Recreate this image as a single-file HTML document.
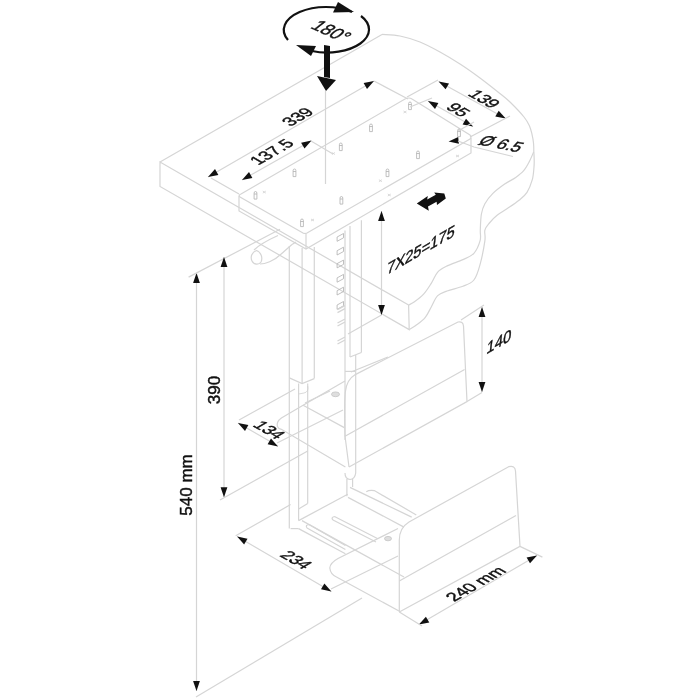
<!DOCTYPE html>
<html><head><meta charset="utf-8"><style>
html,body{margin:0;padding:0;background:#fff;width:700px;height:700px;overflow:hidden}
svg{display:block;will-change:transform}
.l{fill:none;stroke:#d5d5d5;stroke-width:1.2}
.lp{fill:none;stroke:#b0b0b0;stroke-width:0.8}
.ws{fill:#dedede;stroke:#c4c4c4;stroke-width:0.8}
.lx{fill:none;stroke:#d0d0d0;stroke-width:0.8}
.k{fill:none;stroke:#111;stroke-width:2.2}
.a{fill:#111}
.t{font-family:"Liberation Sans",sans-serif;fill:#111;stroke:#111;stroke-width:0.45;text-anchor:middle;dominant-baseline:central}
</style></head><body>
<svg width="700" height="700" viewBox="0 0 700 700">
<path class="l" d="M160,162 L382,34.4"/>
<path class="l" d="M382.0,34.4 C385.0,34.7 393.7,34.7 400.0,36.0 C406.3,37.3 413.3,39.3 420.0,42.0 C426.7,44.7 433.3,48.3 440.0,52.0 C446.7,55.7 453.3,59.7 460.0,64.0 C466.7,68.3 473.7,73.3 480.0,78.0 C486.3,82.7 493.0,88.0 498.0,92.0 C503.0,96.0 505.7,97.8 510.0,102.0 C514.3,106.2 520.8,113.0 524.0,117.0 C527.2,121.0 528.1,122.8 529.4,125.7 C530.7,128.6 531.3,131.4 532.0,134.3 C532.7,137.2 533.2,140.1 533.5,143.0 C533.8,145.9 533.8,150.1 533.8,151.5"/>
<path class="l" d="M533.8,151.5 C533.1,153.2 531.1,158.2 529.4,161.4 C527.7,164.6 526.0,167.9 523.7,170.6 C521.4,173.3 518.9,175.1 515.7,177.4 C512.5,179.7 508.1,181.6 504.3,184.3 C500.5,187.0 496.1,190.2 492.9,193.4 C489.7,196.6 486.8,200.3 484.9,203.7 C483.0,207.1 482.2,209.6 481.4,214.0 C480.6,218.4 480.5,225.6 480.3,230.0 C480.1,234.4 481.2,236.8 480.1,240.7 C479.0,244.6 476.8,250.2 473.9,253.3 C471.0,256.5 467.4,257.5 462.9,259.6 C458.4,261.7 451.3,263.8 447.1,265.9 C442.9,268.0 440.3,269.2 437.7,272.1 C435.1,275.0 433.8,279.4 431.4,283.1 C429.0,286.8 426.5,291.0 423.6,294.1 C420.7,297.2 416.6,300.2 414.1,302.0 C411.6,303.8 409.5,304.6 408.6,305.1"/>
<path class="l" d="M408.6,305.1 L160.0,162.0 L160.0,186.5 L409.2,329.6 L408.6,305.1"/>
<path class="l" d="M533.8,151.5 C533.9,152.9 534.2,157.4 534.2,160.0 C534.2,162.6 534.3,163.7 534.0,167.0 C533.7,170.3 533.5,175.5 532.3,179.7 C531.1,183.9 529.2,188.9 527.0,192.3 C524.8,195.7 522.2,197.6 519.0,200.3 C515.8,203.0 511.3,205.9 507.7,208.3 C504.1,210.8 500.4,212.6 497.4,215.0 C494.3,217.4 491.5,220.5 489.4,223.0 C487.3,225.5 485.6,227.1 484.9,230.0 C484.1,232.9 485.7,235.0 484.9,240.7 C484.1,246.4 481.9,257.8 480.1,264.3 C478.3,270.9 476.8,276.3 473.9,280.0 C471.0,283.7 467.4,284.5 462.9,286.3 C458.4,288.1 451.3,289.4 447.1,291.0 C442.9,292.6 440.3,293.1 437.7,295.7 C435.1,298.3 433.5,303.0 431.4,306.7 C429.3,310.4 427.7,314.5 425.1,317.7 C422.5,320.9 418.4,323.6 415.7,325.6 C413.0,327.6 410.3,328.9 409.2,329.6"/>
<path class="l" d="M241,194 L405,99 Q409,97 412,99 L470,135 Q472,137 470,139 L307,233 Q305,234 303,233 L240,197 Q238,195 241,194 Z"/>
<path class="l" d="M239,196 L239,211 L306,249 L471,153 L471,138"/>
<path class="l" d="M306.0,234.0 L306.0,249.0"/>
<path class="lp" d="M408.6,109.6 L408.6,103.6 Q408.6,102 410,102 Q411.4,102 411.4,103.6 L411.4,109.6 Z M408.6,104.5 L411.4,104.5"/>
<path class="lp" d="M369.6,131.6 L369.6,125.6 Q369.6,124 371,124 Q372.4,124 372.4,125.6 L372.4,131.6 Z M369.6,126.5 L372.4,126.5"/>
<path class="lp" d="M416.6,158.6 L416.6,152.6 Q416.6,151 418,151 Q419.4,151 419.4,152.6 L419.4,158.6 Z M416.6,153.5 L419.4,153.5"/>
<path class="lp" d="M457.6,136.6 L457.6,130.6 Q457.6,129 459,129 Q460.4,129 460.4,130.6 L460.4,136.6 Z M457.6,131.5 L460.4,131.5"/>
<path class="lp" d="M339.40000000000003,150.6 L339.40000000000003,144.6 Q339.40000000000003,143 340.8,143 Q342.2,143 342.2,144.6 L342.2,150.6 Z M339.40000000000003,145.5 L342.2,145.5"/>
<path class="lp" d="M293.1,176.6 L293.1,170.6 Q293.1,169 294.5,169 Q295.9,169 295.9,170.6 L295.9,176.6 Z M293.1,171.5 L295.9,171.5"/>
<path class="lp" d="M254.1,199.1 L254.1,193.1 Q254.1,191.5 255.5,191.5 Q256.9,191.5 256.9,193.1 L256.9,199.1 Z M254.1,194.0 L256.9,194.0"/>
<path class="lp" d="M300.6,226.6 L300.6,220.6 Q300.6,219 302,219 Q303.4,219 303.4,220.6 L303.4,226.6 Z M300.6,221.5 L303.4,221.5"/>
<path class="lp" d="M340.0,204.1 L340.0,198.1 Q340.0,196.5 341.4,196.5 Q342.79999999999995,196.5 342.79999999999995,198.1 L342.79999999999995,204.1 Z M340.0,199.0 L342.79999999999995,199.0"/>
<path class="lp" d="M386.1,176.6 L386.1,170.6 Q386.1,169 387.5,169 Q388.9,169 388.9,170.6 L388.9,176.6 Z M386.1,171.5 L388.9,171.5"/>
<path class="lx" d="M331.9,152.5 L334.9,154.5 M331.9,154.5 L334.9,152.5"/>
<path class="lx" d="M262.8,191.1 L265.8,193.1 M262.8,193.1 L265.8,191.1"/>
<path class="lx" d="M311.0,219 L314.0,221 M311.0,221 L314.0,219"/>
<path class="lx" d="M378.9,179.7 L381.9,181.7 M378.9,181.7 L381.9,179.7"/>
<path class="lx" d="M387.8,194 L390.8,196 M387.8,196 L390.8,194"/>
<path class="lx" d="M403.5,111 L406.5,113 M403.5,113 L406.5,111"/>
<path class="lx" d="M456.0,155 L459.0,157 M456.0,157 L459.0,155"/>
<path class="l" d="M289.3,246.0 L289.3,528.6"/>
<path class="l" d="M302.1,248.0 L302.1,383.6"/>
<path class="l" d="M314.3,247.0 L314.3,378.6"/>
<path class="l" d="M289.3,377.9 L302.1,383.6 L314.3,378.6"/>
<path class="l" d="M298.6,383.6 L298.6,520.6"/>
<path class="l" d="M307.7,383.6 L307.7,503.5"/>
<path class="l" d="M307.7,503.5 L298.6,509.0"/>
<path class="lx" d="M307.7,386 Q309,392 304,393 L298.6,394"/>
<path class="l" d="M345.0,230.6 L345.0,440.0"/>
<path class="l" d="M350.0,226.0 L350.0,357.0"/>
<path class="l" d="M361.4,220.3 L361.4,352.5"/>
<path class="l" d="M350.0,357.0 L361.4,352.5"/>
<path class="l" d="M355.7,355.0 L355.7,371.4"/>
<path class="l" d="M345.0,371.4 L355.7,371.4"/>
<path class="lp" d="M337.1,241.3 L337.1,237 L343.5,233.5 L343.5,237.8 Z"/>
<path class="lp" d="M337.1,255.0 L337.1,250.7 L343.5,247.2 L343.5,251.5 Z"/>
<path class="lp" d="M337.1,267.90000000000003 L337.1,263.6 L343.5,260.1 L343.5,264.40000000000003 Z"/>
<path class="lp" d="M337.1,282.2 L337.1,277.9 L343.5,274.4 L343.5,278.7 Z"/>
<path class="lp" d="M337.1,295.0 L337.1,290.7 L343.5,287.2 L343.5,291.5 Z"/>
<path class="lp" d="M337.1,309.3 L337.1,305 L343.5,301.5 L343.5,305.8 Z"/>
<path class="l" d="M337.5,309.6 L345.0,305.6"/>
<path class="l" d="M337.5,312.6 L345.0,308.6"/>
<path class="l" d="M337.5,323.0 L345.0,319.0"/>
<path class="l" d="M337.5,326.0 L345.0,322.0"/>
<path class="l" d="M337.5,341.0 L345.0,337.0"/>
<path class="l" d="M337.5,344.0 L345.0,340.0"/>
<path class="l" d="M256.5,250.5 C252,252 250,257 252,261 C254,265 259,265 261,262 C263,258 261,252 256.5,250.5 Z"/>
<path class="l" d="M254,250 C258,246 268,240 278,235.5"/>
<path class="l" d="M260,264 C265,264 274,261 280,255 C285,251 290,246 292,244.5"/>
<path class="l" d="M292.0,244.5 L296.0,242.0"/>
<path class="l" d="M349,467 L345,436 C344.5,420 344.5,400 345.3,392 C346.3,383 349.5,378 355.3,374.6 L458,322 Q463,321 463.5,326 L467,401.6 L349,467"/>
<path class="l" d="M345.0,436.3 L464.6,369.4"/>
<path class="l" d="M351.0,372.0 L388.0,357.0"/>
<path class="l" d="M303.1,405.3 L281.4,417.9 Q276.2,421.5 277.4,426.4 Q278.5,428.8 281.4,429.3 L345.4,467"/>
<path class="l" d="M303.1,405.3 L344.3,427.6"/>
<path class="l" d="M303.1,405.3 L345.0,381.0"/>
<path class="l" d="M239.0,420.0 L295.0,389.0"/>
<path class="l" d="M305.0,403.0 L330.0,391.0"/>
<path class="l" d="M277.0,443.0 L343.0,410.0"/>
<path class="ws" d="M331.5,394.3 A4,2.4 0 1 0 339.5,394.3 A4,2.4 0 1 0 331.5,394.3"/>
<path class="l" d="M345,473 Q345,479 350,479.5 Q355,479 355.7,473 L355.7,371.4"/>
<path class="l" d="M346.9,479.0 L346.9,496.3"/>
<path class="l" d="M352.6,479.0 L352.6,487.1"/>
<path class="l" d="M298.6,520.6 L347.7,494.3"/>
<path class="l" d="M298.6,528.6 L345.4,553.7"/>
<path class="l" d="M290.6,528.6 L298.6,528.6"/>
<path class="l" d="M302.0,520.6 L404.0,577.0"/>
<path class="l" d="M309,524.5 L345.4,545.5 M307,528 L345.4,549.5 M309,524.5 Q305,525 307,528"/>
<path class="l" d="M334.5,516.5 L377.4,538.5 M333,520 L376,542 M334.5,516.5 Q330.5,517.5 333,520"/>
<path class="l" d="M350.0,487.4 L411.7,517.1"/>
<path class="l" d="M348.0,497.4 L404.0,527.1"/>
<path class="l" d="M366.3,491.7 Q369,489.8 374.3,490.6 L416.3,514.9"/>
<path class="l" d="M398,528.5 L338,558.5 Q330,563 329.8,568 Q330.5,574.5 336.5,577 L399,611"/>
<path class="ws" d="M384.5,538.6 A3.5,2.2 0 1 0 391.5,538.6 A3.5,2.2 0 1 0 384.5,538.6"/>
<path class="l" d="M399.3,612 L399.3,540 Q399.3,528 409,522 L508.6,466.7 Q515,465 515.5,471 L520,546.4 L399.3,612"/>
<path class="l" d="M399.3,581.0 L516.0,515.6"/>
<path class="l" d="M196.5,273.0 L196.5,691.0"/>
<polygon class="a" points="196.5,273.0 199.9,283.0 193.1,283.0"/>
<polygon class="a" points="196.5,691.0 193.1,681.0 199.9,681.0"/>
<path class="l" d="M188.6,277.1 L280.0,229.3"/>
<path class="l" d="M196.0,697.0 L362.0,598.0"/>
<text class="t" transform="translate(186.5,485) rotate(-90)" font-size="17">540 mm</text>
<path class="l" d="M224.0,257.0 L224.0,497.0"/>
<polygon class="a" points="224.0,257.0 227.4,267.0 220.6,267.0"/>
<polygon class="a" points="224.0,497.3 220.6,487.3 227.4,487.3"/>
<path class="l" d="M220.0,500.0 L307.7,451.0"/>
<text class="t" transform="translate(214,390) rotate(-90)" font-size="17">390</text>
<path class="l" d="M208.0,177.0 L374.0,81.0"/>
<polygon class="a" points="208.0,177.0 215.0,169.1 218.4,174.9"/>
<polygon class="a" points="374.0,81.0 367.0,88.9 363.6,83.1"/>
<path class="l" d="M211.0,178.0 L239.0,194.0"/>
<path class="l" d="M374.0,81.0 L408.0,99.0"/>
<text class="t" transform="matrix(0.866 -0.5 0.866 0.5 298 117)" font-size="17">339</text>
<path class="l" d="M242.0,180.0 L311.0,141.0"/>
<polygon class="a" points="242.0,180.0 249.0,172.1 252.4,177.9"/>
<polygon class="a" points="311.5,140.6 304.5,148.5 301.1,142.7"/>
<path class="l" d="M311.0,141.0 L333.0,154.0"/>
<text class="t" transform="matrix(0.866 -0.5 0.866 0.5 272 152)" font-size="17">137.5</text>
<path class="l" d="M438.6,81.4 L505.7,118.6"/>
<polygon class="a" points="438.6,81.4 449.0,83.5 445.6,89.3"/>
<polygon class="a" points="505.7,118.6 495.3,116.5 498.7,110.7"/>
<path class="l" d="M407.0,97.0 L438.0,80.0"/>
<path class="l" d="M470.0,137.0 L510.0,116.0"/>
<text class="t" transform="matrix(0.866 0.5 -0.866 0.5 484 99)" font-size="17">139</text>
<path class="l" d="M428.0,101.0 L473.0,126.4"/>
<polygon class="a" points="428.0,101.0 438.4,103.1 435.0,108.9"/>
<polygon class="a" points="473.0,126.6 462.6,124.5 466.0,118.7"/>
<path class="l" d="M410.0,107.0 L432.0,98.0"/>
<path class="l" d="M458.0,131.0 L474.0,122.0"/>
<text class="t" transform="matrix(0.866 0.5 -0.866 0.5 458 110)" font-size="17">95</text>
<polygon class="a" points="448.6,141.4 458.2,137.0 458.9,143.8"/>
<path class="l" d="M458.0,141.0 L474.0,147.0 L513.0,156.5"/>
<text class="t" transform="matrix(0.98 0.19 -0.62 0.78 501 144)" font-size="17">Ø 6.5</text>
<path class="l" d="M381.5,211.0 L381.5,315.0"/>
<polygon class="a" points="381.5,211.0 384.9,221.0 378.1,221.0"/>
<polygon class="a" points="381.5,315.0 378.1,305.0 384.9,305.0"/>
<text class="t" transform="matrix(0.866 -0.5 -0.12 1 421 250)" font-size="17">7X25=175</text>
<path class="l" d="M381.5,315.0 L348.0,334.0"/>
<path class="l" d="M482.0,307.0 L482.0,392.0"/>
<polygon class="a" points="482.0,307.0 485.4,317.0 478.6,317.0"/>
<polygon class="a" points="482.0,392.0 478.6,382.0 485.4,382.0"/>
<path class="l" d="M461.0,320.0 L484.0,305.0"/>
<path class="l" d="M482.0,392.5 L467.0,401.6"/>
<text class="t" transform="matrix(0.866 -0.5 -0.12 1 499 342)" font-size="17">140</text>
<path class="l" d="M238.0,423.0 L278.0,446.0"/>
<polygon class="a" points="238.0,423.0 248.4,425.1 245.0,430.9"/>
<polygon class="a" points="278.0,446.4 267.6,444.3 271.0,438.5"/>
<text class="t" transform="matrix(0.866 0.5 -0.866 0.5 269 430)" font-size="17">134</text>
<path class="l" d="M237.1,536.6 L331.4,591.4"/>
<polygon class="a" points="237.1,536.6 247.5,538.7 244.1,544.5"/>
<polygon class="a" points="331.4,591.4 321.0,589.3 324.4,583.5"/>
<path class="l" d="M235.7,535.7 L290.6,504.6"/>
<path class="l" d="M331.0,589.0 L398.0,556.0"/>
<text class="t" transform="matrix(0.866 0.5 -0.866 0.5 296 560)" font-size="17">234</text>
<path class="l" d="M418.9,624.6 L537.0,555.4"/>
<polygon class="a" points="418.9,624.6 425.9,616.7 429.3,622.5"/>
<polygon class="a" points="537.0,555.4 530.0,563.3 526.6,557.5"/>
<path class="l" d="M399.3,612.0 L422.0,626.0"/>
<path class="l" d="M520.0,546.4 L542.4,557.1"/>
<text class="t" transform="matrix(0.866 -0.5 0.866 0.5 476 584)" font-size="17">240 mm</text>
<path class="a" d="M416.8,203.5 L427.8,196 L427.2,199.6 L435.8,194.8 L434.2,192.4 L444.3,193.6 L445.8,198.6 L437,205 L436.6,201.8 L428,206.4 L428.8,210.8 Z"/>
<path class="k" d="M352,12 A42,23 0 0 0 288,40"/>
<path class="k" d="M361,16 A42,23 0 0 1 312,51"/>
<polygon class="a" points="338,2 333,12.5 354,12"/>
<polygon class="a" points="296,45 316,46 311,56"/>
<polygon class="a" points="324,45 330,46 330,78 324,77"/>
<polygon class="a" points="317,76 336,80 326,91"/>
<path class="l" d="M325.5,91.0 L325.5,184.0"/>
<text class="t" transform="matrix(0.822 0.366 -0.788 0.616 331.4 31)" font-size="19.5" stroke-width="0.15">180°</text>
</svg></body></html>
